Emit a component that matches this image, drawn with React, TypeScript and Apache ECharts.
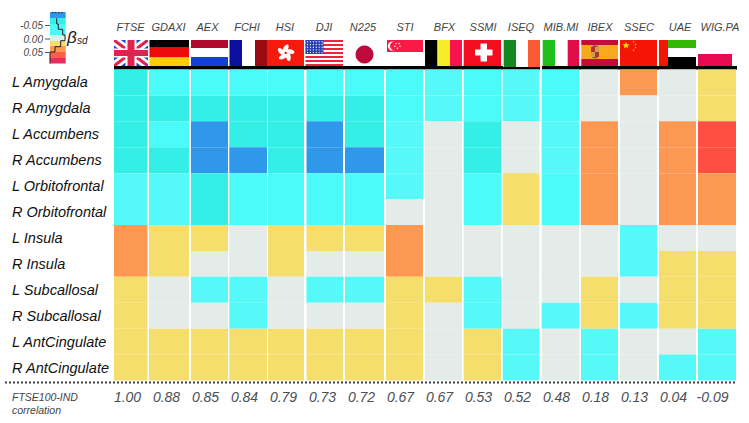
import React, { useEffect, useRef } from "react";
import * as echarts from "echarts";

const tickers = ["FTSE", "GDAXI", "AEX", "FCHI", "HSI", "DJI", "N225", "STI", "BFX", "SSMI", "ISEQ", "MIB.MI", "IBEX", "SSEC", "UAE", "WIG.PA"];
const correlations = ["1.00", "0.88", "0.85", "0.84", "0.79", "0.73", "0.72", "0.67", "0.67", "0.53", "0.52", "0.48", "0.18", "0.13", "0.04", "-0.09"];
const regions = ["L Amygdala", "R Amygdala", "L Accumbens", "R Accumbens", "L Orbitofrontal", "R Orbitofrontal", "L Insula", "R Insula", "L Subcallosal", "R Subcallosal", "L AntCingulate", "R AntCingulate"];

const B = -0.07, T = -0.045, C = -0.035, L = -0.025, G = 0, Y = 0.02, O = 0.04, R = 0.06;
const lAmygdala = [T, C, C, C, C, C, C, C, L, C, L, C, G, O, G, Y];
const rAmygdala = [T, T, T, T, T, T, T, C, L, C, L, C, G, G, G, Y];
const lAccumbens = [T, C, B, T, T, B, T, L, G, T, G, L, O, G, O, R];
const rAccumbens = [T, T, B, B, T, B, B, L, G, T, G, L, O, G, O, R];
const lOrbitofrontal = [L, L, T, C, C, C, C, L, G, C, Y, C, O, G, O, O];
const rOrbitofrontal = [L, L, T, C, C, C, C, G, G, C, Y, C, O, G, O, O];
const lInsula = [O, Y, Y, G, Y, Y, Y, O, G, G, G, G, G, L, G, G];
const rInsula = [O, Y, G, G, Y, G, G, O, G, G, G, G, G, L, Y, Y];
const lSubcallosal = [Y, G, L, L, G, L, L, Y, Y, L, G, G, Y, G, Y, Y];
const rSubcallosal = [Y, G, G, L, G, G, G, Y, G, L, G, L, Y, L, Y, Y];
const lAntCingulate = [Y, Y, Y, Y, Y, Y, Y, Y, G, Y, L, G, L, G, G, L];
const rAntCingulate = [Y, Y, Y, Y, Y, Y, Y, Y, G, Y, L, G, L, G, L, L];
const rows = [lAmygdala, rAmygdala, lAccumbens, rAccumbens, lOrbitofrontal, rOrbitofrontal, lInsula, rInsula, lSubcallosal, rSubcallosal, lAntCingulate, rAntCingulate];

const colorOf = (v: number) => {
  if (v <= -0.06) return "#2F98EA";
  if (v <= -0.04) return "#33EFE6";
  if (v <= -0.03) return "#4AFBF9";
  if (v < 0) return "#56F9F8";
  if (v === 0) return "#E4ECE9";
  if (v <= 0.03) return "#F6DE6C";
  if (v <= 0.05) return "#FD9852";
  return "#FF4F42";
};

// per-column nudges of the left and right cell edges, in px (the source's columns are hand-placed)
const edgeNudge = [
  [2, -3.5], [-2, -1], [1, -1], [0.3, -1], [0, -3], [-0.5, -3], [-1, -1], [1, -1],
  [1, -1], [0.7, -1], [0.7, -1.7], [0.7, -0.7], [1, -1], [1, -1], [1, -1], [1, 0],
];
// per-column shift of the ticker labels, in px
const tickerShift = [-1, -2, -2, -1.5, -2.5, -2.5, -2.5, 0.5, 1, 0.5, -0.5, 0.5, 0.5, 0.5, 2.5, 3.5];

const star = (cx: number, cy: number, r: number) => {
  const pts: number[][] = [];
  for (let i = 0; i < 10; i++) {
    const a = -Math.PI / 2 + (i * Math.PI) / 5;
    const rr = i % 2 ? r * 0.42 : r;
    pts.push([cx + rr * Math.cos(a), cy + rr * Math.sin(a)]);
  }
  return pts;
};
const rect = (x: number, y: number, w: number, h: number, fill: string) => ({ type: "rect", shape: { x, y, width: w, height: h }, style: { fill } });
const poly = (points: number[][], fill: string) => ({ type: "polygon", shape: { points }, style: { fill } });
const circle = (cx: number, cy: number, r: number, fill: string) => ({ type: "circle", shape: { cx, cy, r }, style: { fill } });

const ukFlag = () => {
  const [x0, y0, x1, y1] = [114, 40, 148, 66];
  const band = (a: number, b: number, fill: string) => [
    poly([[x0, y0], [x0 + a, y0], [x1, y1 - b], [x1, y1], [x1 - a, y1], [x0, y0 + b]], fill),
    poly([[x1, y0], [x1, y0 + b], [x0 + a, y1], [x0, y1], [x0, y1 - b], [x1 - a, y0]], fill),
  ];
  return [
    rect(x0, y0, 34, 26, "#1E3FD6"),
    ...band(7, 5.5, "#FFFFFF"),
    ...band(2.5, 2, "#E0224E"),
    rect(x0, 48.5, 34, 9, "#FFFFFF"),
    rect(125.5, y0, 11, 26, "#FFFFFF"),
    rect(x0, 50, 34, 6, "#E0224E"),
    rect(127.5, y0, 7, 26, "#E0224E"),
  ];
};
const usFlag = () => {
  const out: any[] = [];
  for (let i = 0; i < 13; i++) out.push(rect(305.5, 40 + i * 2, 37.5, 2, i % 2 ? "#FFFFFF" : "#E8243F"));
  out.push(rect(305.5, 40, 18, 14, "#2A3FB0"));
  for (let r = 0; r < 5; r++) for (let c = 0; c < 6; c++) out.push(circle(307.5 + c * 2.9, 41.8 + r * 2.7, 0.6, "#FFFFFF"));
  return out;
};
const hkFlag = () => {
  const cx = 285.7, cy = 53;
  const petals: any[] = [];
  for (let i = 0; i < 5; i++) {
    const a = (i * 2 * Math.PI) / 5 - Math.PI / 2;
    petals.push({
      type: "ellipse",
      x: cx + 4.6 * Math.cos(a), y: cy + 4.6 * Math.sin(a),
      rotation: -a - 0.5,
      shape: { cx: 0, cy: 0, rx: 4.4, ry: 2.3 },
      style: { fill: "#FFFFFF" },
    });
  }
  return [rect(267, 40, 37, 26, "#F51A0C"), ...petals, circle(cx, cy, 0.9, "#F51A0C")];
};
const flags: any[] = [
  ...ukFlag(),
  rect(149.5, 40, 39.5, 7, "#000000"), rect(149.5, 47, 39.5, 10.5, "#EE0A0A"), rect(149.5, 57.5, 39.5, 8.5, "#FFCE05"),
  rect(191, 40, 37, 8, "#AE0A2A"), rect(191, 48, 37, 9, "#FFFFFF"), rect(191, 57, 37, 9, "#1240D0"),
  rect(229.5, 40, 12.5, 26, "#0A0F9E"), rect(255, 40, 12.5, 26, "#9A0A12"),
  ...hkFlag(),
  ...usFlag(),
  circle(364.5, 54.5, 9, "#BC0A3C"),
  rect(387, 40, 36, 12, "#FB1A46"),
  circle(392.5, 46, 4.6, "#FFFFFF"), circle(394.2, 46, 4.2, "#FB1A46"),
  circle(396, 43.5, 0.7, "#FFFFFF"), circle(399, 43.5, 0.7, "#FFFFFF"), circle(394.8, 46.3, 0.7, "#FFFFFF"), circle(400, 46.3, 0.7, "#FFFFFF"), circle(397.4, 48.2, 0.7, "#FFFFFF"),
  rect(425, 40, 12.5, 26, "#000000"), rect(437.5, 40, 12.5, 26, "#F5EC28"), rect(450, 40, 12, 26, "#F8134E"),
  rect(463.7, 40, 37.3, 26, "#F30D1E"), rect(480.5, 43.5, 6.5, 18, "#FFFFFF"), rect(475, 49.5, 17.5, 6, "#FFFFFF"),
  rect(503.7, 40, 12.3, 27, "#14881E"), rect(528, 40, 12, 27, "#FC5A32"),
  rect(542.7, 40, 12.3, 26, "#1DC01D"), rect(567.7, 40, 11.5, 26, "#E20C48"),
  rect(581.3, 40, 36.7, 5, "#C60B3A"), rect(581.3, 45, 36.7, 14, "#F8A91E"), rect(581.3, 59, 36.7, 7, "#C60B3A"),
  rect(591, 47, 4, 5, "#B5322C"), rect(595, 47, 4, 5, "#C9A24A"), rect(591, 52, 4, 5, "#C9A24A"), rect(595, 52, 4, 5, "#B5322C"), rect(592.5, 45.5, 5, 1.5, "#9A4A3A"), rect(592.5, 57, 5, 1.2, "#6A5A80"),
  rect(620, 40, 37, 26, "#F51505"),
  poly(star(626, 45.5, 3.8), "#FFE000"),
  poly(star(633.5, 41.8, 1.2), "#F8C800"), poly(star(635.5, 44.5, 1.2), "#F8C800"), poly(star(635.5, 47.6, 1.2), "#F8C800"), poly(star(633.5, 50.2, 1.2), "#F8C800"),
  rect(659, 40, 9, 26, "#F51505"), rect(668, 40, 28, 8, "#33B805"), rect(668, 57, 28, 9, "#000000"),
  rect(698, 54, 34, 12, "#E80A50"),
];

const legendBands: [number, number, string][] = [
  [12, 18, "#2F98EA"], [18, 24, "#33EFE6"], [24, 35, "#4AFBF9"], [35, 41, "#E4ECE9"],
  [41, 46, "#F6DE6C"], [46, 52, "#FD9852"], [52, 58, "#FB5F4E"], [58, 63.5, "#E82C62"],
];
const legendCurve = [[56.7, 18.3], [56.7, 24], [58.3, 24], [58.3, 29.3], [62.7, 29.3], [62.7, 35], [65, 35], [65, 40.7], [60.7, 40.7], [60.7, 46.7], [55, 46.7], [55, 52], [50, 52], [50, 63.5]];
const legendTicks: [string, number][] = [["-0.05", 25.5], ["0.00", 39], ["0.05", 52.5]];

const FONT = '"Liberation Sans", Arial, sans-serif';

const label = (text: string, x: number, y: number, size: number, fill: string, align = "left") => ({
  type: "text", x, y,
  style: { text, fontFamily: FONT, fontStyle: "italic", fontSize: size, fill, align, verticalAlign: "middle" },
});

export default function App() {
  const ref = useRef<HTMLDivElement>(null);
  useEffect(() => {
    const chart = echarts.init(ref.current!, null, { renderer: "svg" });
    const cells: number[][] = [];
    rows.forEach((row, r) => row.forEach((v, c) => cells.push([c, r, v])));
    chart.setOption({
      animation: false,
      backgroundColor: "#FFFFFF",
      grid: { left: 112, width: 624, top: 69.5, height: 311 },
      xAxis: [
        {
          type: "category", position: "top",
          data: tickers.map((value, i) => {
            const d = tickerShift[i] * 2;
            return { value, textStyle: { padding: d < 0 ? [0, -d, 0, 0] : [0, 0, 0, d] } };
          }),
          axisLine: { show: false }, axisTick: { show: false }, splitLine: { show: false },
          axisLabel: { interval: 0, margin: 37, fontFamily: FONT, fontStyle: "italic", fontSize: 11, color: "#444444" },
        },
        {
          type: "category", data: correlations, position: "bottom",
          axisLine: { show: false }, axisTick: { show: false }, splitLine: { show: false },
          axisLabel: { interval: 0, margin: 9, padding: [0, 8, 0, 0], fontFamily: FONT, fontStyle: "italic", fontSize: 14, color: "#4A4F55" },
        },
      ],
      yAxis: {
        type: "category", data: regions, inverse: true,
        axisLine: { show: false }, axisTick: { show: false }, splitLine: { show: false },
        axisLabel: { interval: 0, margin: 100, align: "left", fontFamily: FONT, fontStyle: "italic", fontSize: 14.5, color: "#111111" },
      },
      series: [{
        type: "custom",
        data: cells,
        encode: { x: 0, y: 1 },
        renderItem: (_p: any, api: any) => {
          const c = api.value(0), r = api.value(1);
          const [cx, cy] = api.coord([c, r]);
          const [w, h] = api.size([1, 1]);
          const [nl, nr] = edgeNudge[c];
          return {
            type: "rect",
            shape: { x: cx - w / 2 + nl, y: cy - h / 2, width: w - nl + nr, height: h },
            style: { fill: colorOf(api.value(2)) },
          };
        },
      }],
      graphic: [
        ...flags,
        rect(114, 66, 389, 3.5, "#000000"),
        rect(503, 67, 37, 2.5, "#000000"),
        rect(542, 66, 195, 3.5, "#000000"),
        {
          type: "line", shape: { x1: 5, y1: 382.5, x2: 737, y2: 382.5 },
          style: { stroke: "#3A3F44", lineWidth: 2, lineDash: [2, 2] },
        },
        label("FTSE100-IND", 12, 397, 10.5, "#444444"),
        label("correlation", 12, 410, 10.5, "#444444"),
        ...legendBands.map(([y0, y1, c]) => rect(50, y0, 15.7, y1 - y0, c)),
        { type: "line", shape: { x1: 52, y1: 12.8, x2: 64, y2: 12.8 }, style: { stroke: "#222222", lineWidth: 1, lineDash: [1.5, 1.5] } },
        { type: "polyline", shape: { points: legendCurve }, style: { stroke: "#222222", lineWidth: 1, fill: "none" } },
        ...legendTicks.flatMap(([t, y]) => [
          { type: "line", shape: { x1: 45, y1: y, x2: 50, y2: y }, style: { stroke: "#555555", lineWidth: 1 } },
          label(t, 43, y, 10, "#444444", "right"),
        ]),
        label("β", 67, 37, 17, "#222222"),
        label("sd", 77, 40.5, 10, "#222222"),
      ],
    });
    return () => chart.dispose();
  }, []);
  return <div ref={ref} style={{ position: "absolute", left: 0, top: 0, width: 749, height: 423 }} />;
}
